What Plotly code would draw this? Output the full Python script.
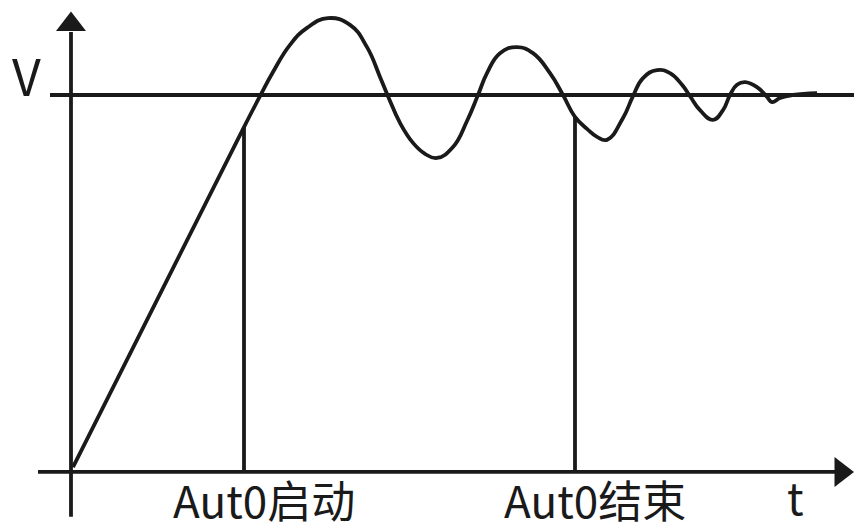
import plotly.graph_objects as go

# Response curve (t in drawing units from origin, V normalized so setpoint = 1)
curve_t = [2, 173, 189, 202, 219, 236, 257, 279, 296, 309, 317, 329, 342, 354, 366,
           382, 396, 407, 416, 429, 446, 462, 479, 492, 504, 516, 526, 536, 552, 562,
           572, 586, 599, 611, 619, 629, 642, 652, 659, 666, 674, 686, 696, 701,
           709, 722, 746]
curve_v = [0.013, 0.915, 0.997, 1.061, 1.133, 1.178, 1.204, 1.186, 1.127, 1.048,
           0.997, 0.926, 0.873, 0.844, 0.833, 0.862, 0.931, 1.0, 1.058, 1.111, 1.127,
           1.111, 1.058, 1.0, 0.942, 0.910, 0.889, 0.881, 0.939, 0.997, 1.045, 1.066,
           1.058, 1.027, 0.997, 0.960, 0.934, 0.960, 1.0, 1.027, 1.034, 1.021, 0.995,
           0.981, 0.992, 1.0, 1.005]

# AutO start / end markers
event_t = [173, 504]
event_v = [0.915, 0.942]
event_labels = ["Aut0启动", "Aut0结束"]

setpoint_v = 1.0
setpoint_t = [-21, 800]

xaxis_t = [-33, 764]
yaxis_v = [-0.119, 1.167]

ink = "#1a1a1a"
lw = 3.8

fig = go.Figure()

# axes lines
fig.add_trace(go.Scatter(x=xaxis_t, y=[0, 0], mode="lines",
                         line=dict(color=ink, width=lw), hoverinfo="skip"))
fig.add_trace(go.Scatter(x=[0, 0], y=yaxis_v, mode="lines",
                         line=dict(color=ink, width=lw), hoverinfo="skip"))
# setpoint line
fig.add_trace(go.Scatter(x=setpoint_t, y=[setpoint_v, setpoint_v], mode="lines",
                         line=dict(color=ink, width=lw), hoverinfo="skip"))
# event vertical lines
for t, v in zip(event_t, event_v):
    fig.add_trace(go.Scatter(x=[t, t], y=[0, v], mode="lines",
                             line=dict(color=ink, width=lw), hoverinfo="skip"))
# response curve
fig.add_trace(go.Scatter(x=curve_t, y=curve_v, mode="lines",
                         line=dict(color=ink, width=lw, shape="spline", smoothing=1.3),
                         hoverinfo="skip"))
# arrow heads
fig.add_trace(go.Scatter(x=[0], y=[yaxis_v[1] + 0.02], mode="markers",
                         marker=dict(symbol="triangle-up", size=26, color=ink),
                         hoverinfo="skip"))
fig.add_trace(go.Scatter(x=[xaxis_t[1] + 6], y=[0], mode="markers",
                         marker=dict(symbol="triangle-right", size=26, color=ink),
                         hoverinfo="skip"))

font = dict(family="Noto Sans CJK SC", size=44, color=ink)
for t, lab in zip(event_t, event_labels):
    fig.add_annotation(x=t + 20, y=-0.072, text=lab, showarrow=False, font=font,
                       xanchor="center", yanchor="middle")
fig.add_annotation(x=724, y=-0.064, text="t", showarrow=False, font=font,
                   xanchor="center", yanchor="middle")
fig.add_annotation(x=-45, y=1.056, text="V", showarrow=False,
                   font=dict(family="Noto Sans CJK SC", size=50, color=ink),
                   xanchor="center", yanchor="middle")

# page body has an 8px margin, so the figure is shrunk and its ranges offset
fig.update_layout(
    width=854, height=522,
    margin=dict(l=0, r=0, t=0, b=0),
    paper_bgcolor="white", plot_bgcolor="white",
    showlegend=False,
    xaxis=dict(range=[-63, 791], visible=False, fixedrange=True),
    yaxis=dict(range=[-0.154, 1.2308], visible=False, fixedrange=True),
)

fig.write_html("out.html")
